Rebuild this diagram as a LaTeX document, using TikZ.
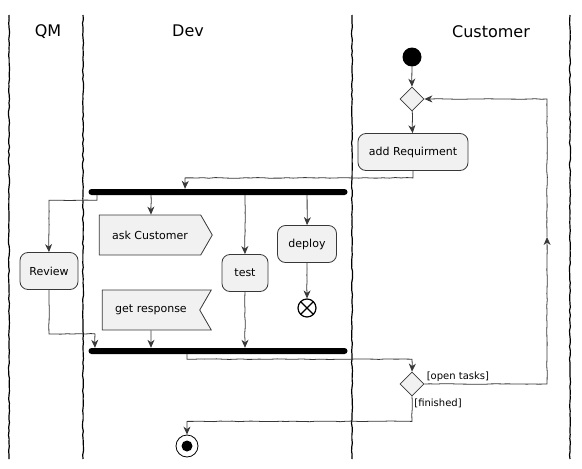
\documentclass[tikz,border=0pt]{standalone}
\usepackage{fontspec}
\setmainfont{DejaVu Sans}
\usetikzlibrary{shapes.geometric,shapes.symbols,arrows.meta,decorations.pathmorphing}

\definecolor{umlline}{HTML}{383838}
\definecolor{umlfill}{HTML}{F1F1F1}

\begin{document}
\pgfmathsetseed{7}
\begin{tikzpicture}[x=1pt,y=-1pt,
    sketch/.style={decorate,decoration={random steps,segment length=4pt,amplitude=.5pt}},
    lane/.style={sketch,line width=1.2pt},
    act/.style={draw=umlline,fill=umlfill,rounded corners=8pt,line width=.8pt,
      minimum height=37pt,inner xsep=6pt,font=\fontsize{11}{13}\selectfont},
    sendsig/.style={act,rounded corners=0pt,signal,signal from=nowhere,signal to=east,
      signal pointer angle=120,minimum width=113pt,minimum height=40pt},
    recvsig/.style={act,rounded corners=0pt,signal,signal to=nowhere,signal from=east,
      signal pointer angle=120,minimum width=109pt,minimum height=40pt},
    choice/.style={draw=umlline,fill=umlfill,diamond,minimum size=24pt,inner sep=0pt,line width=.8pt},
    bar/.style={fill=black,rounded corners=3pt,minimum width=259pt,minimum height=6pt,inner sep=0pt},
    startnode/.style={circle,fill=black,minimum size=19pt,inner sep=0pt},
    ffinal/.style={circle,draw,line width=1.2pt,minimum size=18pt,inner sep=0pt,
      path picture={\draw[line width=1.2pt]
        (path picture bounding box.north west) -- (path picture bounding box.south east)
        (path picture bounding box.south west) -- (path picture bounding box.north east);}},
    endnode/.style={circle,draw,fill=white,minimum size=22pt,inner sep=0pt,line width=.8pt},
    flow/.style={draw=umlline,line width=.8pt,
      decorate,decoration={random steps,segment length=6pt,amplitude=.35pt},
      -{Stealth[length=8pt,width=7pt,inset=2.5pt]}},
    title/.style={font=\fontsize{16}{18}\selectfont},
    guard/.style={font=\fontsize{10}{11}\selectfont,inner sep=2pt}]
  \useasboundingbox (0,0) rectangle (582,469);

  % swimlanes
  \draw[lane] (9,15) -- (9,459);
  \draw[lane] (83,15) -- (83,459);
  \draw[lane] (352,15) -- (352,459);
  \draw[lane] (570,15) -- (570,459);
  \node[title] (qm) at (48,32) {QM};
  \node[title] (dev) at (188,31) {Dev};
  \node[title] (cust) at (491,32) {Customer};

  % customer lane
  \node[startnode] (start) at (412,57) {};
  \node[choice] (loop) at (412,99) {};
  \node[act,minimum width=110pt] (req) at (413,152) {add Requirment};

  % fork / join
  \node[bar] (fork) at (218,192) {};
  \node[bar] (join) at (218,351) {};

  % parallel branches
  \node[act,minimum width=58pt] (review) at (49,271) {Review};
  \node[sendsig] (ask) at (150,235) {ask Customer};
  \node[recvsig] (resp) at (151,310) {get response};
  \node[act,minimum width=46pt] (test) at (245,273) {test};
  \node[act,minimum width=59pt] (deploy) at (307,244) {deploy};
  \node[ffinal] (stop) at (307,308) {};

  % check
  \node[choice] (check) at (412,384) {};
  \coordinate (back) at (547,237);
  \node[endnode] (end) at (187,446) {};
  \fill (end) circle[radius=5.5pt];

  % flows
  \draw[flow] (start) -- (loop);
  \draw[flow] (loop) -- (req);
  \draw[flow] (req.south) -- ++(0,7) -| ([xshift=-33pt]fork.north);
  \draw[flow] ([xshift=-121pt]fork.south) -- ++(0,5) -| (review.north);
  \draw[flow] ([xshift=-67pt]fork.south) -- ([xshift=-67pt]fork.south |- ask.north);
  \draw[flow] (fork.south -| test) -- (test.north);
  \draw[flow] (fork.south -| deploy) -- (deploy.north);
  \draw[flow] (deploy.south) -- (stop.north);
  \draw[flow] (review.south) -- ++(0,44) -| ([xshift=-123pt]join.north);
  \draw[flow] ([xshift=-67pt]join.north |- resp.south) -- ([xshift=-67pt]join.north);
  \draw[flow] (test.south) -- (test.south |- join.north);
  \draw[flow] ([xshift=-31pt]join.south) -- ++(0,5) -| (check.north);
  \draw[flow] (check.east) node[guard,above right] {[open tasks]} -| (back);
  \draw[flow] (back) |- (loop.east);
  \draw[flow] (check.south) node[guard,below right] {[finished]} -- ++(0,25) -| (end.north);
\end{tikzpicture}
\end{document}
